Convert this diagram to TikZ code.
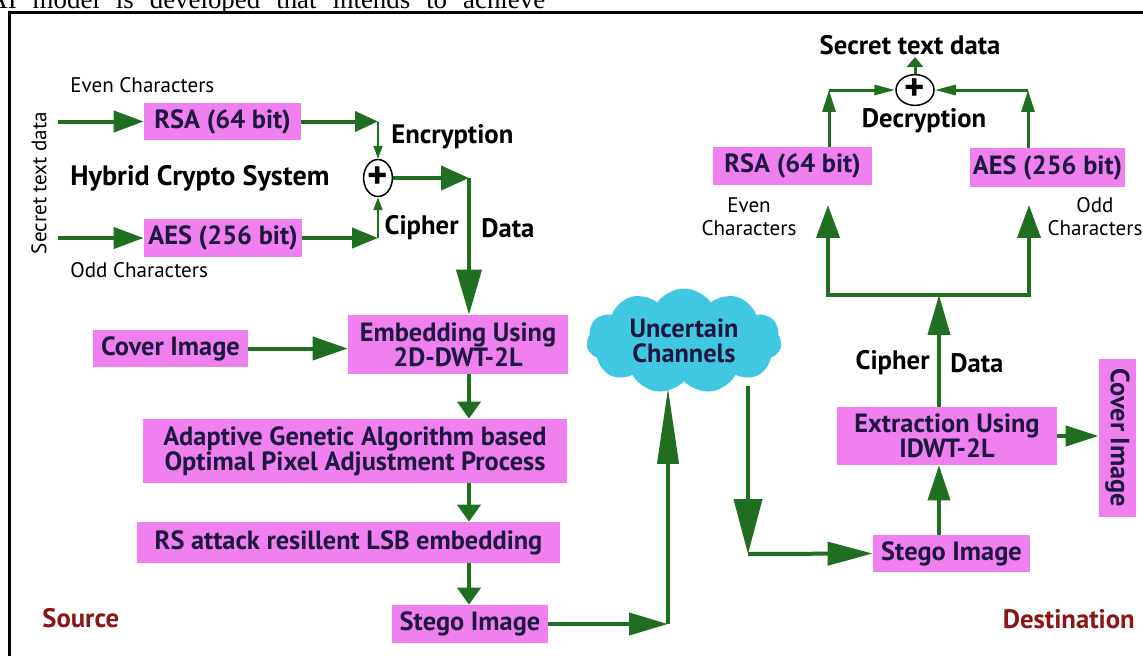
\documentclass[tikz,border=0pt]{standalone}
\usepackage{fontspec}
\setmainfont{PT Sans}
\newfontfamily\pagefont{Liberation Serif}
\usetikzlibrary{arrows.meta,shapes.geometric,shapes.symbols}
\definecolor{stegogreen}{RGB}{32,110,32}
\definecolor{stegoviolet}{RGB}{240,128,240}
\definecolor{stegocyan}{RGB}{64,200,226}
\definecolor{stegonavy}{RGB}{28,22,64}
\definecolor{stegored}{RGB}{140,22,22}

\begin{document}
\begin{tikzpicture}[x=0.02cm, y=-0.02cm]
    \tikzstyle{block} = [rectangle, fill=stegoviolet, text=stegonavy, inner sep=0pt,
        align=center, font=\fontsize{15}{14.4}\selectfont\bfseries]
    \tikzstyle{lbl} = [inner sep=0pt, font=\fontsize{15.2}{16}\selectfont\bfseries]
    \tikzstyle{note} = [inner sep=0pt, align=center, font=\fontsize{12}{13}\selectfont]
    \tikzstyle{side} = [lbl, text=stegored]
    \tikzstyle{xor} = [ellipse, draw=black, line width=0.03cm, inner sep=0pt,
        font=\fontsize{22}{22}\selectfont\bfseries]
    \tikzstyle{line} = [line width=0.08cm, color=stegogreen, line cap=rect]
    \tikzstyle{arrow} = [line width=0.08cm, color=stegogreen, -{Triangle[length=0.6cm,width=0.42cm]}]
    \tikzstyle{stub} = [arrow, -{Triangle[length=0.34cm,width=0.46cm]}]
    \tikzstyle{spike} = [arrow, -{Triangle[length=1.52cm,width=0.42cm]}]
    \tikzstyle{thinarrow} = [line width=0.04cm, color=stegogreen, -{Triangle[length=0.26cm,width=0.18cm]}]
    \tikzstyle{medarrow} = [line width=0.06cm, color=stegogreen, -{Triangle[length=0.44cm,width=0.26cm]}]

    \useasboundingbox (0,0) rectangle (1143,656);
    \node [anchor=base west, inner sep=0pt, font=\pagefont\fontsize{15.3}{16}\selectfont]
        (pagetext) at (-12,8) {\spaceskip=0.32cm AI model is developed that intends to achieve};
    \draw [line width=0.07cm] (1160,12.7) -- (9.5,12.7) -- (9.5,680);

    % source side
    \node [note, rotate=90] (secretL) at (39,183) {Secret text data};
    \node [note, anchor=west] (evenL) at (70,85) {Even Characters};
    \node [note, anchor=west] (oddL) at (70,270) {Odd Characters};
    \node [lbl, anchor=west, font=\fontsize{16}{17}\selectfont\bfseries] (hybrid) at (70,178) {Hybrid Crypto System};
    \node [lbl, anchor=west] (encL) at (391,137) {Encryption};
    \node [block, minimum width=3.14cm, minimum height=0.74cm] (rsaE) at (222.5,121.5) {RSA (64 bit)};
    \node [block, minimum width=3.16cm, minimum height=0.76cm] (aesE) at (223,238) {AES (256 bit)};
    \node [xor, minimum width=0.5cm, minimum height=0.74cm] (enc) at (378,178) {+};
    \node [lbl, anchor=east] (cipherL) at (459,228) {Cipher};
    \node [lbl, anchor=west] (dataL) at (481,228) {Data};
    \node [block, minimum width=3.1cm, minimum height=0.74cm] (covL) at (170.5,348.5) {Cover Image};
    \node [block, minimum width=4.4cm, minimum height=1.18cm] (embed) at (458,344.5) {Embedding Using\\2D-DWT-2L};
    \node [block, minimum width=8.48cm, minimum height=1.28cm] (adapt) at (355,451) {Adaptive Genetic Algorithm based\\Optimal Pixel Adjustment Process};
    \node [block, minimum width=8.46cm, minimum height=0.82cm] (rs) at (348.5,542.5) {RS attack resillent LSB embedding};
    \node [block, minimum width=3.12cm, minimum height=0.76cm] (stegoS) at (470,624) {Stego Image};
    \node [side, anchor=west] (source) at (42,618) {Source};

    % channel
    \node [cloud, cloud puffs=11, cloud puff arc=110, aspect=1.9, fill=stegocyan, text=stegonavy,
        inner sep=0pt, minimum width=3.9cm, minimum height=2.1cm, align=center,
        font=\fontsize{15}{14.4}\selectfont\bfseries] (cloud) at (684,341) {Uncertain\\Channels};

    % destination side
    \node [block, minimum width=3.14cm, minimum height=0.74cm] (stegoD) at (951.5,553.5) {Stego Image};
    \node [block, minimum width=4.4cm, minimum height=1.16cm] (extr) at (947,436) {Extraction Using\\IDWT-2L};
    \node [block, rotate=-90, minimum width=3.16cm, minimum height=0.74cm] (covR) at (1117.5,438) {Cover Image};
    \node [lbl, anchor=east] (cipherR) at (930,363) {Cipher};
    \node [lbl, anchor=west] (dataR) at (950,363) {Data};
    \node [block, minimum width=3.18cm, minimum height=0.76cm] (rsaD) at (792.5,166) {RSA (64 bit)};
    \node [block, minimum width=3.1cm, minimum height=0.78cm] (aesD) at (1047.5,167.5) {AES (256 bit)};
    \node [note] (evenR) at (749,217) {Even\\Characters};
    \node [note] (oddR) at (1095,217) {Odd\\Characters};
    \node [xor, minimum width=0.76cm, minimum height=0.44cm] (dec) at (915,90) {+};
    \node [lbl] (decL) at (924,121) {Decryption};
    \node [lbl] (secretR) at (910,45) {Secret text data};
    \node [side, anchor=east] (dest) at (1135,619) {Destination};

    % encryption
    \coordinate (srcE) at (58,121.5);
    \coordinate (srcO) at (58,238);
    \coordinate (joinE) at (378,121.5);
    \coordinate (joinO) at (378,238);
    \coordinate (cd) at (469,178);
    \draw [arrow] (srcE) -- (rsaE.west);
    \draw [arrow] (srcO) -- (aesE.west);
    \draw [arrow, -{Triangle[length=0.46cm,width=0.4cm]}] (rsaE.east) -- (joinE);
    \draw [arrow, -{Triangle[length=0.52cm,width=0.4cm]}] (aesE.east) -- (joinO);
    \draw [thinarrow] (joinE) -- (enc.north);
    \draw [thinarrow] (joinO) -- (enc.south);
    \draw [arrow, -{Triangle[length=0.56cm,width=0.48cm]}] (enc.east) -- (cd);
    \draw [arrow, -{Triangle[length=0.9cm,width=0.5cm]}] (cd) -- (cd |- embed.north);

    % embedding
    \draw [arrow, -{Triangle[length=0.7cm,width=0.46cm]}] (covL.east) -- (covL.east -| embed.west);
    \draw [stub] (cd |- embed.south) -- (cd |- adapt.north);
    \draw [stub] (cd |- adapt.south) -- (cd |- rs.north);
    \draw [stub] (cd |- rs.south) -- (cd |- stegoS.north);

    % through the channel
    \coordinate (up) at (668,624);
    \coordinate (cin) at (668,388);
    \coordinate (cout) at (748,386);
    \coordinate (down) at (748,554);
    \draw [arrow, -{Triangle[length=0.78cm,width=0.44cm]}] (stegoS.east) -- (up);
    \draw [spike] (up) -- (cin);
    \draw [arrow, -{Triangle[length=1.1cm,width=0.56cm]}] (cout) -- (down);
    \draw [arrow, -{Triangle[length=0.9cm,width=0.46cm]}] (down) -- (stegoD.west);

    % extraction
    \coordinate (bar) at (939,295);
    \coordinate (bl) at (828,295);
    \coordinate (br) at (1029,295);
    \coordinate (evenTip) at (828,205);
    \coordinate (oddTip) at (1029,205);
    \draw [arrow, -{Triangle[length=0.7cm,width=0.44cm]}] (bar |- stegoD.north) -- (bar |- extr.south);
    \draw [arrow, -{Triangle[length=0.66cm,width=0.4cm]}] (extr.east) -- (extr.east -| covR.south);
    \draw [arrow, -{Triangle[length=0.8cm,width=0.44cm]}] (bar |- extr.north) -- (bar);
    \draw [line] (bl) -- (br);
    \draw [arrow, -{Triangle[length=0.66cm,width=0.46cm]}] (bl) -- (evenTip);
    \draw [arrow, -{Triangle[length=0.66cm,width=0.46cm]}] (br) -- (oddTip);

    % decryption
    \coordinate (dl) at (829,90);
    \coordinate (dr) at (1028,90);
    \coordinate (secTip) at (915,57);
    \draw [medarrow] (rsaD.north -| dl) -- (dl);
    \draw [medarrow] (aesD.north -| dr) -- (dr);
    \draw [medarrow, -{Triangle[length=0.42cm,width=0.2cm]}] (dl) -- (dec.west);
    \draw [medarrow, -{Triangle[length=0.42cm,width=0.2cm]}] (dr) -- (dec.east);
    \draw [medarrow, -{Triangle[length=0.2cm,width=0.32cm]}] (dec.north) -- (secTip);
\end{tikzpicture}
\end{document}
